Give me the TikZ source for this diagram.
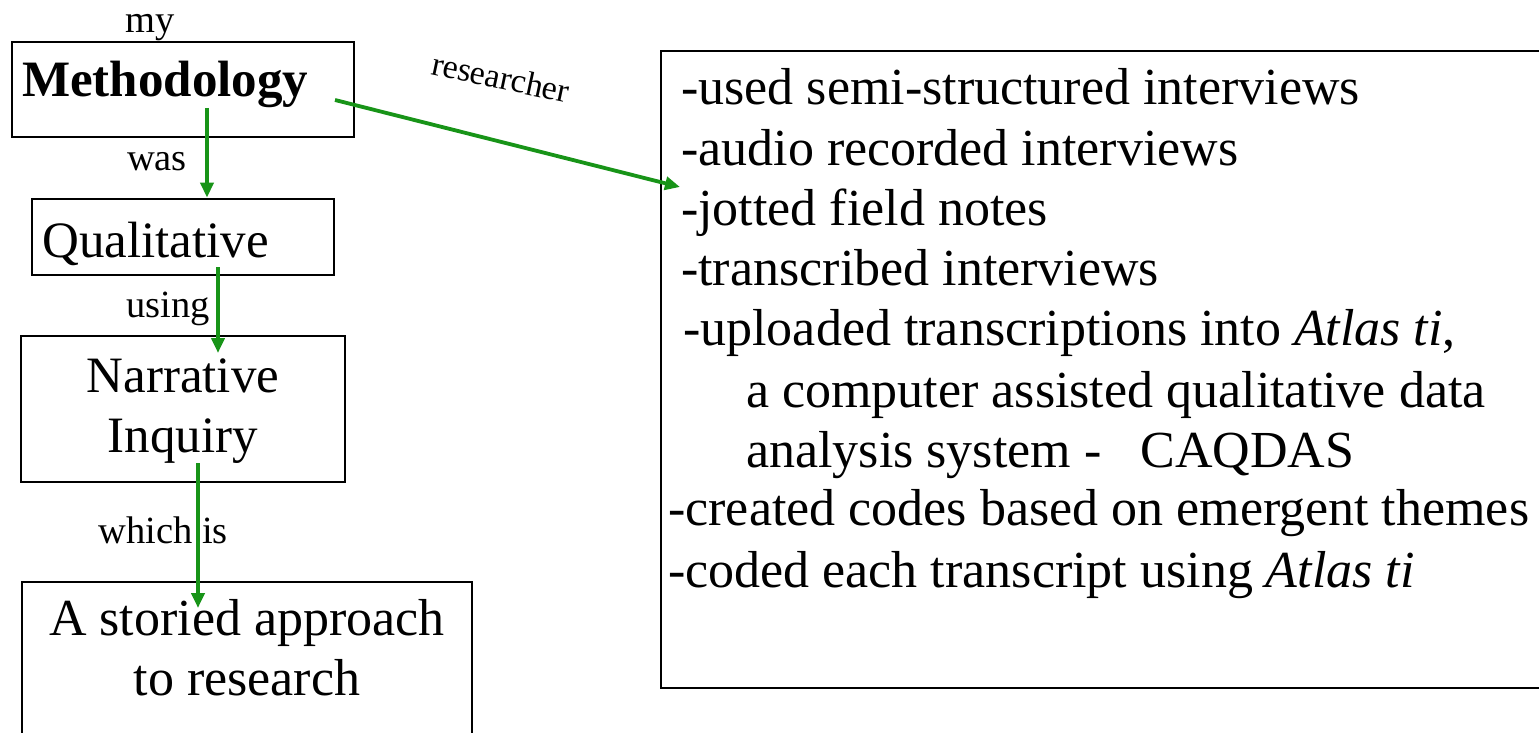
\documentclass[tikz,border=0pt]{standalone}
\usepackage{fontspec}
\setmainfont{LiberationSerif}[Extension=.ttf,UprightFont=*-Regular,BoldFont=*-Bold,ItalicFont=*-Italic,BoldItalicFont=*-BoldItalic]
\usetikzlibrary{arrows.meta}
\definecolor{flowgreen}{RGB}{24,148,24}
\begin{document}
\begin{tikzpicture}[x=1pt,y=-1pt,
  frame/.style={draw=black,line width=2.8pt,inner sep=0pt,rectangle},
  big/.style={font=\rmfamily\fontsize{51}{60}\selectfont,inner sep=0pt,anchor=base},
  small/.style={font=\rmfamily\fontsize{38.5}{44}\selectfont,inner sep=0pt,anchor=base},
  item/.style={font=\rmfamily\fontsize{52}{60}\selectfont,inner sep=0pt,anchor=base west},
  flow/.style={draw=flowgreen,line width=3.8pt,-{Triangle[length=15pt,width=13pt]}}]
\useasboundingbox (0,0) rectangle (1539,733);
\fill[white] (0,0) rectangle (1539,733);
\clip (0,0) rectangle (1539,733);

% boxes of the left-hand chain and the list box
\node[frame,minimum width=342pt,minimum height=95pt]  (meth)  at (183,89.5) {};
\node[frame,minimum width=302pt,minimum height=76pt]  (qual)  at (183,237) {};
\node[frame,minimum width=324pt,minimum height=146pt] (narr)  at (183,409) {};
\node[frame,minimum width=450pt,minimum height=178pt] (story) at (247,671) {};
\node[frame,minimum width=909pt,minimum height=637pt] (steps) at (1115.5,369.5) {};

% box texts
\node[big,anchor=base west,font=\rmfamily\fontsize{51}{60}\selectfont\bfseries] (methT) at (22,97) {Methodology};
\node[big,anchor=base west] (qualT) at (42,257) {Qualitative};
\node[big] (narrT1) at (183,392) {Narrative};
\node[big] (narrT2) at (183,452) {Inquiry};
\node[big,font=\rmfamily\fontsize{52}{60}\selectfont] (storyT1) at (247,635) {A storied approach};
\node[big,font=\rmfamily\fontsize{52}{60}\selectfont] (storyT2) at (247,695) {to research};

% linking words
\node[small] (lmy)    at (150,33)  {my};
\node[small] (lwas)   at (157,170) {was};
\node[small] (lusing) at (168,317) {using};
\node[small] (lwhich) at (163,543) {which is};
\node[small,anchor=base west,font=\rmfamily\fontsize{34}{40}\selectfont,rotate=-12] (lres) at (430,74) {researcher};

% list of research steps
\node[item] (s1) at (681,105) {-used semi-structured interviews};
\node[item] (s2) at (681,165) {-audio recorded interviews};
\node[item] (s3) at (681,225) {-jotted field notes};
\node[item] (s4) at (681,285) {-transcribed interviews};
\node[item] (s5) at (683,345) {-uploaded transcriptions into \textit{Atlas ti},};
\node[item] (s6) at (746,407) {a computer assisted qualitative data};
\node[item] (s7) at (746,467) {analysis system -\ \ \ CAQDAS};
\node[item] (s8) at (668,525) {-created codes based on emergent themes};
\node[item] (s9) at (668,587) {-coded each transcript using \textit{Atlas ti}};

% arrow end points
\coordinate (m1) at (207,108);
\coordinate (q1) at (218,267);
\coordinate (n0) at (218,353);
\coordinate (n1) at (198,463);
\coordinate (st0) at (198,608);
\coordinate (m2) at (335,100);
\coordinate (jot) at (680,187);

% connectors
\draw[flow] (m1) -- (m1 |- qual.north);
\draw[flow] (q1) -- (n0);
\draw[flow] (n1) -- (st0);
\draw[flow] (m2) -- (jot);
\end{tikzpicture}
\end{document}
